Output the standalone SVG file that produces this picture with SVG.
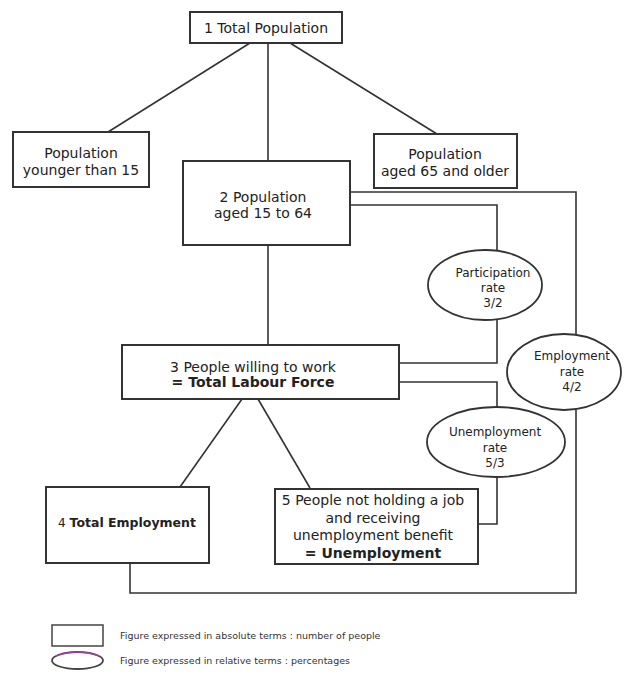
<svg xmlns="http://www.w3.org/2000/svg" width="639" height="682" viewBox="0 0 639 682">
<style>
.box{fill:#fff;stroke:#333;stroke-width:2}
.ell{fill:#fff;stroke:#333;stroke-width:1.8}
.ln{fill:none;stroke:#333;stroke-width:1.6}
text{font-family:"DejaVu Sans",Verdana,sans-serif;fill:#222;text-anchor:middle}
.t{font-size:14px}
.e{font-size:12px}
.b{font-weight:bold}
.lg{font-size:9.5px;text-anchor:start;fill:#333}
</style>
<rect width="639" height="682" fill="#fff"/>
<g id="connectors">
<path class="ln" d="M250,43 L108,132"/>
<path class="ln" d="M268,43 L268,161"/>
<path class="ln" d="M290,43 L437,134"/>
<path class="ln" d="M268,245 L268,345"/>
<path class="ln" d="M350,192 L576,192 L576,334"/>
<path class="ln" d="M576,410 L576,593 L130,593 L130,563"/>
<path class="ln" d="M350,205 L497,205 L497,251"/>
<path class="ln" d="M497,320 L497,363 L399,363"/>
<path class="ln" d="M399,382 L497,382 L497,407"/>
<path class="ln" d="M497,477 L497,524 L478,524"/>
<path class="ln" d="M242,399 L180,487"/>
<path class="ln" d="M258,399 L310,488"/>
</g>
<g id="n1"><rect class="box" x="190" y="12" width="152" height="31"/><text class="t" x="266" y="33">1 Total Population</text></g>
<g id="n_young"><rect class="box" x="13" y="132" width="136" height="55"/><text class="t" x="81" y="158">Population</text><text class="t" x="81" y="175">younger than 15</text></g>
<g id="n_old"><rect class="box" x="374" y="134" width="143" height="54"/><text class="t" x="445" y="159">Population</text><text class="t" x="445" y="176">aged 65 and older</text></g>
<g id="n2"><rect class="box" x="183" y="161" width="167" height="84"/><text class="t" x="263" y="202">2 Population</text><text class="t" x="263" y="218">aged 15 to 64</text></g>
<g id="r_part"><ellipse class="ell" cx="485" cy="285" rx="57" ry="35"/><text class="e" x="493" y="277">Participation</text><text class="e" x="493" y="292">rate</text><text class="e" x="493" y="307">3/2</text></g>
<g id="r_emp"><ellipse class="ell" cx="564" cy="372" rx="57" ry="38"/><text class="e" x="572" y="360">Employment</text><text class="e" x="572" y="376">rate</text><text class="e" x="572" y="391">4/2</text></g>
<g id="n3"><rect class="box" x="122" y="345" width="277" height="54"/><text class="t" x="253" y="372">3 People willing to work</text><text class="t b" x="253" y="387">= Total Labour Force</text></g>
<g id="r_unemp"><ellipse class="ell" cx="496" cy="442" rx="69" ry="35"/><text class="e" x="495" y="436">Unemployment</text><text class="e" x="495" y="452">rate</text><text class="e" x="495" y="467">5/3</text></g>
<g id="n4"><rect class="box" x="46" y="487" width="163" height="76"/><text class="t" x="127" y="527"><tspan font-size="12">4 </tspan><tspan class="b" font-size="12.5">Total Employment</tspan></text></g>
<g id="n5"><rect class="box" x="275" y="489" width="203" height="75"/><text class="t" x="373" y="505">5 People not holding a job</text><text class="t" x="373" y="523">and receiving</text><text class="t" x="373" y="540">unemployment benefit</text><text class="t b" x="373" y="558">= Unemployment</text></g>
<g id="legend">
<rect x="52" y="625" width="51" height="21" fill="#fff" stroke="#444" stroke-width="1.5"/>
<text class="lg" x="120" y="639">Figure expressed in absolute terms : number of people</text>
<ellipse cx="77.5" cy="660.5" rx="25.5" ry="8.5" fill="#fff" stroke="#444" stroke-width="1.8"/>
<path d="M56,656 Q77,648 99,656" fill="none" stroke="#a040a0" stroke-width="1.5"/>
<text class="lg" x="120" y="664">Figure expressed in relative terms : percentages</text>
</g>
</svg>
